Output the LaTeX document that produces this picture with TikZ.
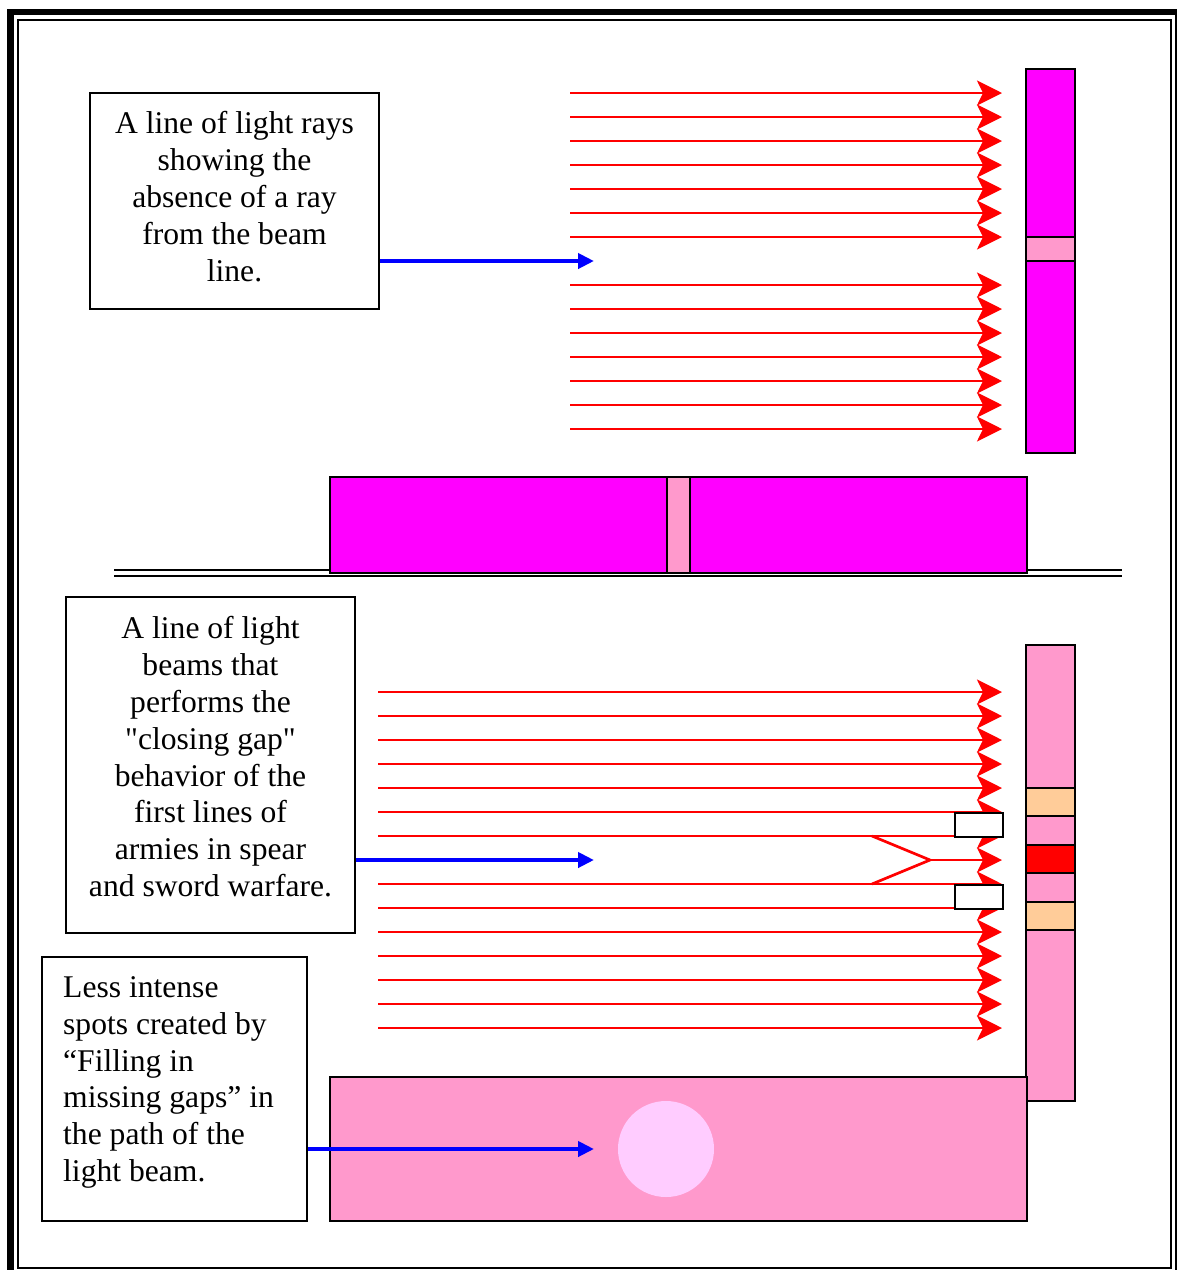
\documentclass[tikz,border=0pt]{standalone}
\usepackage{fontspec}
\setmainfont{Liberation Serif}[Ligatures=TeXOff]
\usetikzlibrary{arrows.meta}
\definecolor{mag}{HTML}{FF00FF}
\definecolor{lpink}{HTML}{FF99CC}
\definecolor{peach}{HTML}{FFCC99}
\definecolor{circ}{HTML}{FFCCFF}
\begin{document}
\begin{tikzpicture}[x=1pt,y=-1pt,
  ray/.style={draw=red, line width=2.7pt, -{Stealth[length=25pt,width=25pt,inset=6pt]}},
  plainray/.style={draw=red, line width=2.7pt},
  bluearrow/.style={draw=blue, line width=4.5pt, -{Triangle[length=16pt,width=15pt]}},
  textbox/.style={draw=black, line width=2pt, fill=white, inner sep=0pt},
  boxtext/.style={inner sep=0pt, font=\fontsize{31.6pt}{36.8pt}\selectfont},
  bar/.style={draw=black, line width=2.5pt},
  whitebox/.style={draw=black, line width=2pt, fill=white, minimum width=48pt, minimum height=24pt, inner sep=0pt}
]
\useasboundingbox (0,0) rectangle (1177,1270);
% frame
\fill[black] (7,9) rectangle (1177,15);
\fill[black] (7,9) rectangle (14,1270);
\draw[line width=2pt] (18,20) rectangle (1171,1268);
\draw[line width=1.5pt] (1176,15) -- (1176,1270);

% ---------- top part ----------
\foreach \k in {0,...,14}{
  \ifnum\k=7\else
    \coordinate (ta\k) at (570,93+24*\k);
    \coordinate (tb\k) at (1002,93+24*\k);
    \draw[ray] (ta\k) -- (tb\k);
  \fi
}
% top vertical bar
\path[bar, fill=mag] (1026,69) rectangle (1075,453);
\path[bar, fill=lpink] (1026,237) rectangle (1075,261);

% box 1
\node[textbox, minimum width=289pt, minimum height=216pt] (box1) at (234.5,201) {};
\node[boxtext, align=center, anchor=north] (txt1) at (234.5,111.4)
  {A line of light rays\\showing the\\absence of a ray\\from the beam\\line.};
\coordinate (e1) at (594,261);
\draw[bluearrow] (box1.east |- e1) -- (e1);

% horizontal bar and double line
\draw[line width=2pt] (114,570) -- (1122,570);
\draw[line width=2pt] (114,575.5) -- (1122,575.5);
\path[bar, fill=mag] (330,477) rectangle (1027,573);
\path[bar, fill=lpink] (667,477) rectangle (690,573);

% ---------- lower part ----------
\foreach \k in {0,...,14}{
  \ifnum\k=7\else
    \coordinate (la\k) at (378,692+24*\k);
    \coordinate (lb\k) at (1002,692+24*\k);
    \draw[ray] (la\k) -- (lb\k);
  \fi
}
\coordinate (c1) at (872,836);
\coordinate (c2) at (872,884);
\coordinate (cm) at (930,860);
\coordinate (ct) at (1002,860);
\draw[plainray] (c1) -- (cm) -- (c2);
\draw[ray] (cm) -- (ct);
\node[whitebox] (wb1) at (979,825) {};
\node[whitebox] (wb2) at (979,897) {};

% lower vertical bar
\path[bar, fill=lpink] (1026,645) rectangle (1075,1101);
\path[bar, fill=peach] (1026,788) rectangle (1075,816);
\path[bar, fill=lpink] (1026,816) rectangle (1075,845);
\path[bar, fill=red] (1026,845) rectangle (1075,873);
\path[bar, fill=lpink] (1026,873) rectangle (1075,902);
\path[bar, fill=peach] (1026,902) rectangle (1075,930);

% box 2
\node[textbox, minimum width=289pt, minimum height=336pt] (box2) at (210.5,765) {};
\node[boxtext, align=center, anchor=north] (txt2) at (210.5,616.4)
  {A line of light\\beams that\\performs the\\"closing gap"\\behavior of the\\first lines of\\armies in spear\\and sword warfare.};
\coordinate (e2) at (594,860);
\draw[bluearrow] (box2.east |- e2) -- (e2);

% bottom pink rectangle
\path[draw=black, line width=2pt, fill=lpink] (330,1077) rectangle (1027,1221);
\fill[circ] (666,1149) circle (48);

% box 3
\node[textbox, minimum width=265pt, minimum height=264pt] (box3) at (174.5,1089) {};
\node[boxtext, align=left, anchor=north west] (txt3) at (63,976.4)
  {Less intense\\spots created by\\“Filling in\\missing gaps” in\\the path of the\\light beam.};
\coordinate (e3) at (594,1149);
\draw[bluearrow] (box3.east |- e3) -- (e3);
\end{tikzpicture}
\end{document}
